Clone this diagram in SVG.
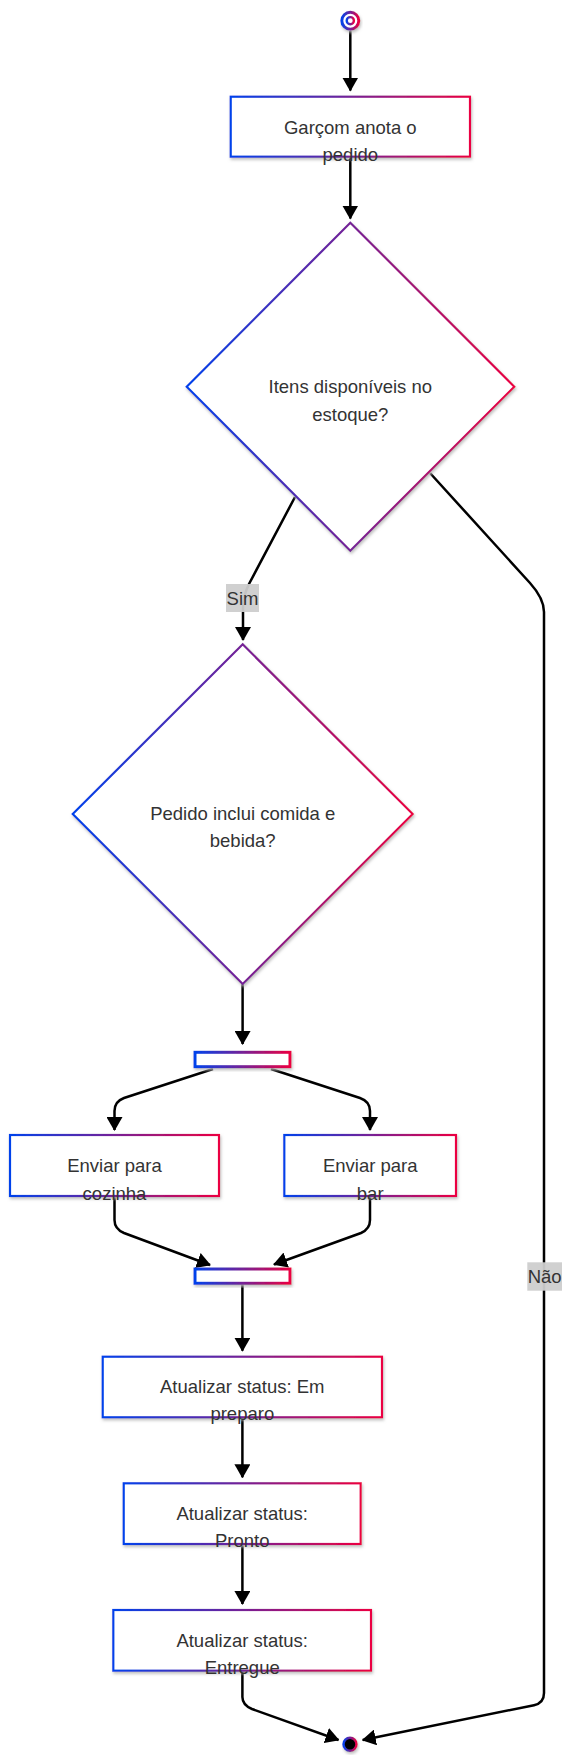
<svg xmlns="http://www.w3.org/2000/svg" width="572" height="1762" viewBox="0 0 572 1762">
<style>
.node{fill:#fff;stroke:url(#grad);stroke-width:2.2;filter:url(#shadow)}
.bar{stroke-width:3}
.lbl{font-family:"Liberation Sans",Arial,sans-serif;font-size:18.5px;fill:#333;text-anchor:middle}
.edge{fill:none;stroke:#000;stroke-width:2.5;marker-end:url(#arrow)}
.elbg{fill:#cdcdcd;opacity:0.95}
</style>
<defs>
<linearGradient id="grad" x1="0" y1="0" x2="1" y2="0">
<stop offset="0" stop-color="#0042eb"/>
<stop offset="1" stop-color="#eb0042"/>
</linearGradient>
<filter id="shadow" x="-10%" y="-10%" width="130%" height="140%">
<feDropShadow dx="1" dy="2" stdDeviation="1.5" flood-color="#b9b9b9" flood-opacity="0.9"/>
</filter>
<marker id="arrow" viewBox="0 0 14 16" refX="13" refY="8" markerWidth="14" markerHeight="16" markerUnits="userSpaceOnUse" orient="auto">
<path d="M0,0 L14,8 L0,16 z" fill="#000"/>
</marker>
</defs>
<rect width="572" height="1762" fill="#fff"/>
<g id="connectors">
<path class="edge" d="M350.3,31 L350.3,90.5"/>
<path class="edge" d="M350.3,157 L350.3,218.5"/>
<path class="edge" d="M295,497 L249,584 Q243,596 243,608 L243,640"/>
<path class="edge" d="M430,473 L530,583 Q544,598.5 544,612 L544,1693 Q544,1703 534,1705.2 L362.7,1740"/>
<path class="edge" d="M242.6,984 L242.6,1044"/>
<path class="edge" d="M213,1069 L124,1098 Q114.5,1101.5 114.5,1111 L114.5,1130"/>
<path class="edge" d="M271,1069 L360,1098 Q370,1101.5 370,1111 L370,1130"/>
<path class="edge" d="M114.5,1196 L114.5,1220 Q114.5,1229 124,1233 L210,1265"/>
<path class="edge" d="M370,1196 L370,1220 Q370,1229 361,1233 L274,1264.5"/>
<path class="edge" d="M242.4,1284 L242.4,1350.7"/>
<path class="edge" d="M242.4,1417.5 L242.4,1477.3"/>
<path class="edge" d="M242.4,1544 L242.4,1604"/>
<path class="edge" d="M242.4,1671 L242.4,1697 Q242.4,1705 252,1709 L338.5,1740"/>
<g id="edge-labels">
<rect class="elbg" x="226" y="584" width="33" height="28"/>
<text class="lbl" x="242.5" y="604.5">Sim</text>
<rect class="elbg" x="527.3" y="1262.3" width="34.7" height="28.4"/>
<text class="lbl" x="544.7" y="1283.3">Não</text>
</g>
</g>
<g id="start">
<circle cx="350.3" cy="20.7" r="8.5" fill="#fff" stroke="url(#grad)" stroke-width="3" filter="url(#shadow)"/>
<circle cx="350.3" cy="20.7" r="3.6" fill="#fff" stroke="url(#grad)" stroke-width="2.4"/>
</g>
<g id="garcom">
<rect class="node" x="230.7" y="96.7" width="239.3" height="60"/>
<text class="lbl" x="350.3" y="133.5">Garçom anota o</text>
<text class="lbl" x="350.3" y="160.5">pedido</text>
</g>
<g id="estoque">
<polygon class="node" points="350.3,222.7 514.3,386.7 350.3,550.7 186.7,386.7"/>
<text class="lbl" x="350.3" y="393.3">Itens disponíveis no</text>
<text class="lbl" x="350.3" y="420.5">estoque?</text>
</g>
<g id="comida-bebida">
<polygon class="node" points="242.7,644.3 412.7,814 242.7,984 72.7,814"/>
<text class="lbl" x="242.7" y="820">Pedido inclui comida e</text>
<text class="lbl" x="242.7" y="847.3">bebida?</text>
</g>
<g id="fork">
<rect class="node bar" x="195" y="1052.3" width="95" height="14.4"/>
</g>
<g id="cozinha">
<rect class="node" x="10" y="1135" width="209" height="61"/>
<text class="lbl" x="114.5" y="1172.3">Enviar para</text>
<text class="lbl" x="114.5" y="1199.5">cozinha</text>
</g>
<g id="bar">
<rect class="node" x="284.3" y="1135" width="171.7" height="61"/>
<text class="lbl" x="370.2" y="1172.3">Enviar para</text>
<text class="lbl" x="370.2" y="1199.5">bar</text>
</g>
<g id="join">
<rect class="node bar" x="195" y="1269" width="95" height="14.3"/>
</g>
<g id="em-preparo">
<rect class="node" x="102.7" y="1356.7" width="279.3" height="60.6"/>
<text class="lbl" x="242.3" y="1392.8">Atualizar status: Em</text>
<text class="lbl" x="242.3" y="1420">preparo</text>
</g>
<g id="pronto">
<rect class="node" x="123.7" y="1483.3" width="237" height="60.7"/>
<text class="lbl" x="242.2" y="1520">Atualizar status:</text>
<text class="lbl" x="242.2" y="1547.2">Pronto</text>
</g>
<g id="entregue">
<rect class="node" x="113.3" y="1610" width="257.7" height="60.7"/>
<text class="lbl" x="242.2" y="1647">Atualizar status:</text>
<text class="lbl" x="242.2" y="1674.2">Entregue</text>
</g>
<g id="end">
<circle cx="350" cy="1744.3" r="6.5" fill="#000" stroke="url(#grad)" stroke-width="2.6" filter="url(#shadow)"/>
</g>
</svg>
